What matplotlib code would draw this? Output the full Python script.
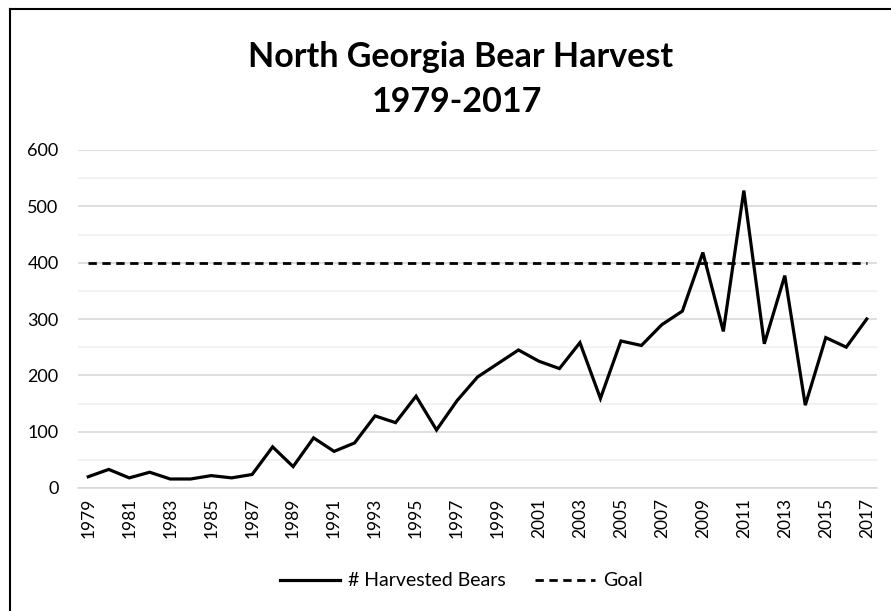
import matplotlib.pyplot as plt
from matplotlib.lines import Line2D
from matplotlib.ticker import MultipleLocator

years = list(range(1979, 2018))
harvested = [20, 33, 18, 28, 16, 16, 22, 18, 24, 73, 38, 89, 65, 80, 128, 116, 163, 103,
             155, 197, 221, 245, 225, 212, 258, 159, 261, 253, 290, 314, 418, 278, 528, 256,
             377, 147, 267, 250, 300]
goal = [400] * len(years)

plt.rcParams['font.family'] = ['Lato', 'DejaVu Sans']

fig = plt.figure(figsize=(8.91, 6.11), dpi=100)
ax = fig.add_axes([78 / 891, 1 - 488 / 611, (877 - 78) / 891, (488 - 150) / 611])

x = list(range(len(years)))
ax.plot(x, harvested, color='black', lw=2.3, label='# Harvested Bears', solid_joinstyle='miter')
ax.plot(x, goal, color='black', lw=2.0, ls=(0, (3, 2)), label='Goal')

ax.set_xlim(-0.5, len(years) - 0.5)
ax.set_ylim(0, 600)
ax.yaxis.set_major_locator(MultipleLocator(100))
ax.yaxis.set_minor_locator(MultipleLocator(50))
ax.grid(which='major', axis='y', color='#d9d9d9', lw=1.2)
ax.grid(which='minor', axis='y', color='#f0f0f0', lw=1.2)
ax.set_axisbelow(True)

ax.set_xticks(x[::2])
ax.set_xticklabels([str(y) for y in years[::2]], rotation=90, fontsize=12.5)
ax.tick_params(axis='y', labelsize=13, pad=14)
ax.tick_params(which='both', length=0)
ax.tick_params(axis='x', pad=7)

for s in ['top', 'right', 'left']:
    ax.spines[s].set_visible(False)
ax.spines['bottom'].set_color('#d9d9d9')
ax.spines['bottom'].set_linewidth(1.2)

fig.text(461 / 891, 1 - 57 / 611, 'North Georgia Bear Harvest', ha='center', va='center',
         fontsize=24.5, fontweight='bold')
fig.text(457 / 891, 1 - 102 / 611, '1979-2017', ha='center', va='center',
         fontsize=24.5, fontweight='bold')

handles = [Line2D([], [], color='black', lw=2.3),
           Line2D([], [], color='black', lw=2.0, ls=(0, (3, 2)))]
fig.legend(handles, ['# Harvested Bears', 'Goal'], loc='center', ncol=2,
           bbox_to_anchor=(461 / 891, 1 - 581 / 611), frameon=False, fontsize=14,
           handlelength=3.1, handletextpad=0.4, columnspacing=1.5)

# chart frame (only left and top edges visible in the crop)
fig.add_artist(Line2D([10 / 891, 10 / 891], [0, 1 - 9 / 611], color='black', lw=1.5,
                      transform=fig.transFigure))
fig.add_artist(Line2D([10 / 891, 1], [1 - 9 / 611, 1 - 9 / 611], color='black', lw=1.5,
                      transform=fig.transFigure))

fig.savefig('out.png', dpi=100)
